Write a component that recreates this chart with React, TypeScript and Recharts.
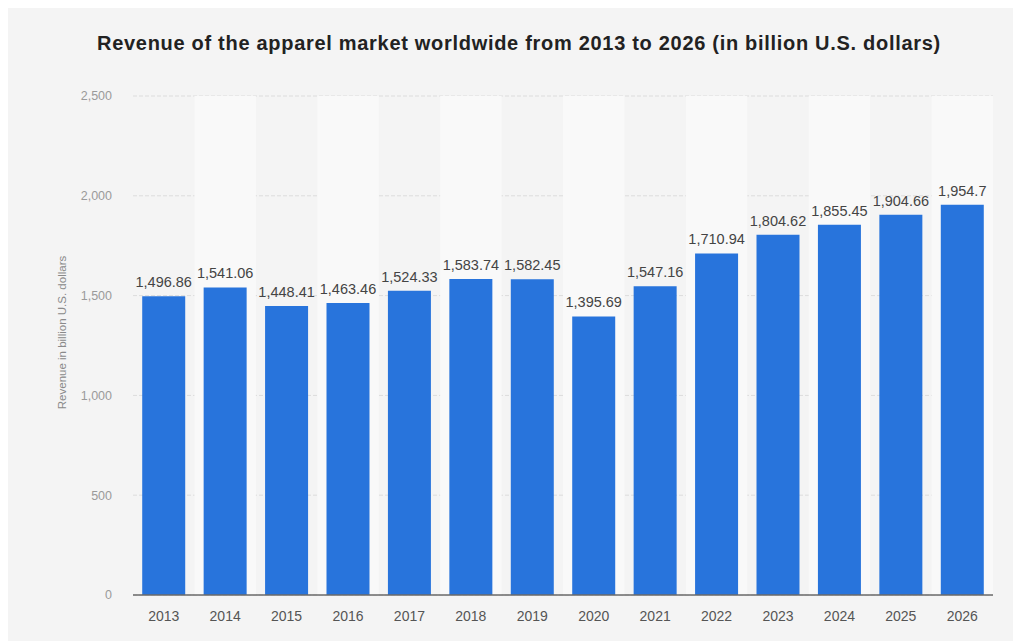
import React from "react";
import { BarChart, Bar, XAxis, YAxis, CartesianGrid, LabelList, ReferenceArea } from "recharts";

const years = ["2013", "2014", "2015", "2016", "2017", "2018", "2019", "2020", "2021", "2022", "2023", "2024", "2025", "2026"];
const revenue = [1496.86, 1541.06, 1448.41, 1463.46, 1524.33, 1583.74, 1582.45, 1395.69, 1547.16, 1710.94, 1804.62, 1855.45, 1904.66, 1954.7];
const yTicks = [0, 500, 1000, 1500, 2000, 2500];

const title = "Revenue of the apparel market worldwide from 2013 to 2026 (in billion U.S. dollars)";
const yLabel = "Revenue in billion U.S. dollars";

const data = years.map((y, i) => ({ year: y, value: revenue[i] }));
const bandYears = years.filter((_, i) => i % 2 === 1);

const FONT = "'Liberation Sans', Arial, Helvetica, sans-serif";

const fmtTick = (v: number) => v.toLocaleString("en-US");
const fmtVal = (v: number) => v.toLocaleString("en-US", { maximumFractionDigits: 2 });

const YLabel = (props: any) => {
  const vb = props.viewBox || {};
  const x = (vb.x || 0) + 54;
  const y = (vb.y || 0) + (vb.height || 0) / 2 - 13;
  return (
    <text x={x} y={y} transform={`rotate(-90, ${x}, ${y})`} textAnchor="middle" dominantBaseline="central" fill="#8a8a8a" fontSize={11.5} fontFamily={FONT}>
      {yLabel}
    </text>
  );
};

export default function App() {
  return (
    <div style={{ position: "relative", width: 1013, height: 633, background: "#f4f4f4", fontFamily: FONT }}>
      <div style={{ position: "absolute", left: 0, top: 24, width: 1022, textAlign: "center", fontSize: 20, letterSpacing: 0.7, fontWeight: "bold", color: "#222" }}>
        {title}
      </div>
      <BarChart width={1013} height={633} data={data} margin={{ top: 88, right: 28, bottom: 0, left: 0 }} barCategoryGap="15%">
        {bandYears.map((y) => (
          <ReferenceArea key={y} x1={y} x2={y} y1={0} y2={2500} fill="#f9f9f9" fillOpacity={1} stroke="none" ifOverflow="visible" />
        ))}
        <CartesianGrid vertical={false} stroke="#dcdcdc" strokeDasharray="4 2" />
        <XAxis dataKey="year" height={46} tickSize={0} tickMargin={16} axisLine={{ stroke: "#6a6a6a", strokeWidth: 1.5 }} tick={{ fill: "#555", fontSize: 14, fontFamily: FONT }} />
        <YAxis width={125} domain={[0, 2500]} ticks={yTicks} tickFormatter={fmtTick} axisLine={false} tickLine={false} tickSize={0} tickMargin={21} tick={{ fill: "#9a9a9a", fontSize: 12.5, fontFamily: FONT }} label={<YLabel />} />
        <Bar dataKey="value" fill="#2874dc" isAnimationActive={false}>
          <LabelList dataKey="value" position="top" offset={9} formatter={(v: any) => fmtVal(Number(v))} fill="#444" fontSize={14.5} fontFamily={FONT} />
        </Bar>
      </BarChart>
    </div>
  );
}
